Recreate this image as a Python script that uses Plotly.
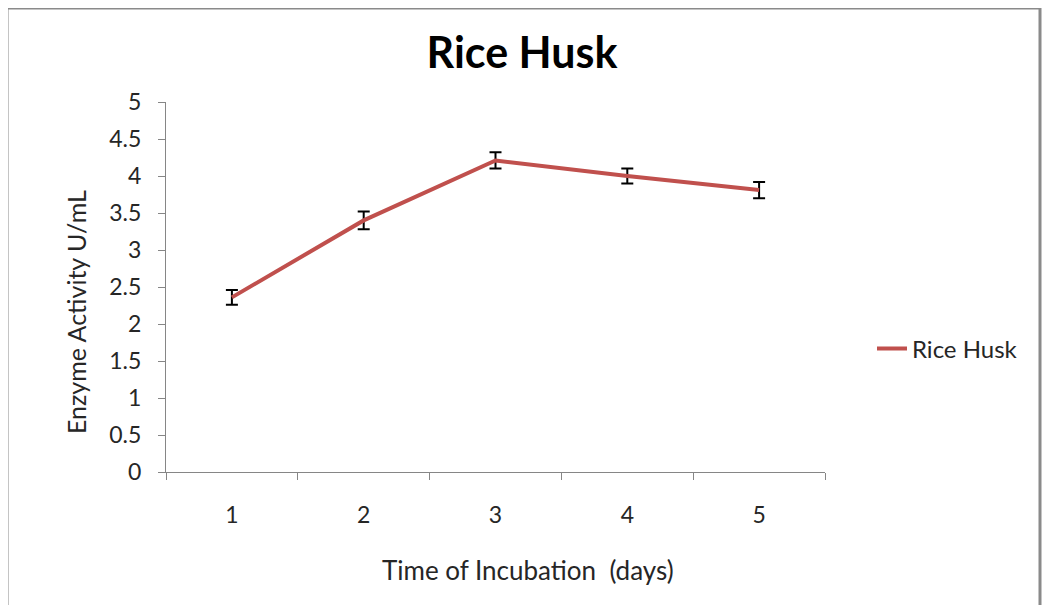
import plotly.graph_objects as go

days = ["1", "2", "3", "4", "5"]
activity = [2.36, 3.40, 4.21, 4.00, 3.81]
errors = [0.10, 0.12, 0.11, 0.10, 0.11]
y_ticks = [0, 0.5, 1, 1.5, 2, 2.5, 3, 3.5, 4, 4.5, 5]
y_tick_text = ["0", "0.5", "1", "1.5", "2", "2.5", "3", "3.5", "4", "4.5", "5"]

FONT = "Lato, 'Open Sans', sans-serif"
AXIS_COLOR = "#868686"
TXT = "#262626"

OFF = 8  # page body margin offset
W, H = 1051, 605
L, R, T, B = 166 - OFF, 825 - OFF, 102 - OFF, 472 - OFF
pw, ph = R - L, B - T

def px(x):
    return (x - OFF - L) / pw

def py(y):
    return (B - (y - OFF)) / ph

fig = go.Figure()
fig.add_trace(go.Scatter(
    x=days, y=activity, mode="lines", name="Rice Husk",
    line=dict(color="#C0504D", width=4),
    error_y=dict(type="data", array=errors, visible=True,
                 color="black", thickness=2, width=6),
))

fig.update_layout(
    width=W, height=H,
    margin=dict(l=L, r=W - R, t=T, b=H - B),
    paper_bgcolor="white", plot_bgcolor="white",
    font=dict(family=FONT, color=TXT, size=22),
    title=dict(text="<b>Rice Husk</b>", x=(522 - OFF) / W, xanchor="center",
               y=1 - (53 - OFF) / H, yanchor="middle",
               font=dict(family=FONT, size=43, color="black")),
    showlegend=True,
    legend=dict(x=px(872), xanchor="left", y=py(349), yanchor="middle",
                font=dict(family=FONT, size=24, color=TXT),
                bgcolor="rgba(0,0,0,0)"),
    xaxis=dict(type="category", tickson="boundaries", showgrid=False,
               showline=True, linecolor=AXIS_COLOR, linewidth=1,
               ticks="outside", ticklen=7, tickcolor=AXIS_COLOR,
               ticklabelstandoff=22, tickfont=dict(size=23, color=TXT),
               range=[-0.5, 4.5], zeroline=False),
    yaxis=dict(range=[0, 5], tickvals=y_ticks, ticktext=y_tick_text,
               showgrid=False, showline=True, linecolor=AXIS_COLOR, linewidth=1,
               ticks="outside", ticklen=7, tickcolor=AXIS_COLOR,
               ticklabelstandoff=12, tickfont=dict(size=23, color=TXT),
               zeroline=False),
    annotations=[
        dict(text="Time of Incubation  (days)", x=px(528), y=py(570),
             xref="paper", yref="paper", showarrow=False, xanchor="center", yanchor="middle",
             font=dict(family=FONT, size=26, color=TXT)),
        dict(text="Enzyme Activity U/mL", x=px(76), y=py(312),
             xref="paper", yref="paper", showarrow=False, textangle=-90,
             xanchor="center", yanchor="middle",
             font=dict(family=FONT, size=25, color=TXT)),
    ],
    shapes=[
        dict(type="rect", xref="paper", yref="paper",
             x0=px(7), x1=px(1040), y0=py(660), y1=py(8),
             line=dict(color="#8a8a8a", width=3), fillcolor="rgba(0,0,0,0)", layer="below"),
    ],
)

fig.write_html("out.html")
